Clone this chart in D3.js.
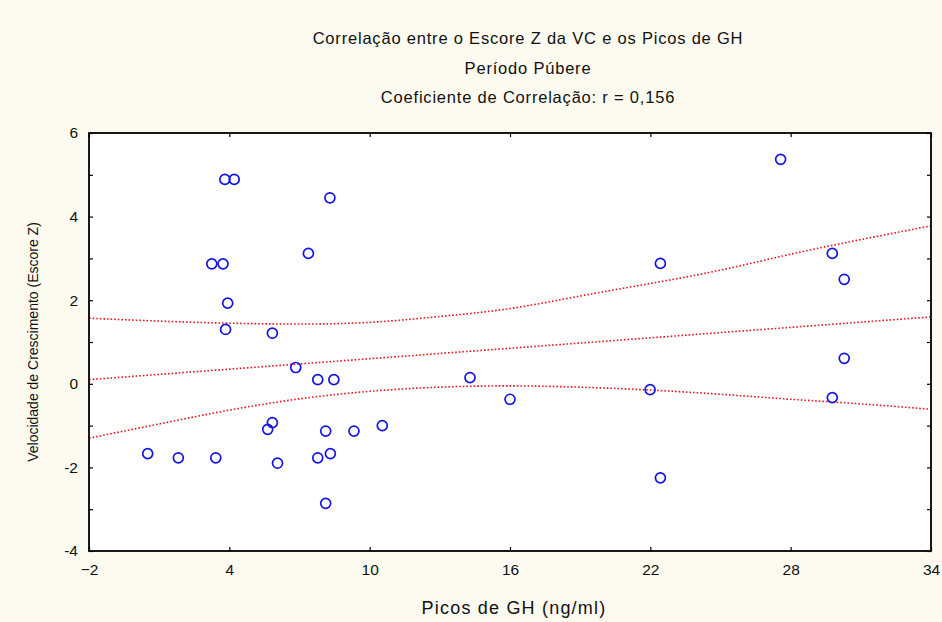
<!DOCTYPE html>
<html>
<head>
<meta charset="utf-8">
<script src="https://cdn.jsdelivr.net/npm/d3@7"></script>
<style>
  html, body { margin: 0; padding: 0; background: #fdfaf0; }
  svg { display: block; }
</style>
</head>
<body>
<script>
// Data
const picosGH = [3.81, 4.21, 8.30, 3.25, 3.73, 7.38, 3.93, 3.84, 5.84, 6.84, 7.78, 8.47,
  5.84, 5.64, 8.12, 9.33, 0.51, 1.82, 3.42, 6.06, 7.78, 8.32, 8.12, 14.29, 16.0, 10.54,
  27.57, 22.43, 29.78, 30.29, 30.29, 21.99, 29.78, 22.43];
const escoreZ = [4.89, 4.89, 4.45, 2.87, 2.87, 3.12, 1.93, 1.30, 1.21, 0.39, 0.10, 0.10,
  -0.93, -1.09, -1.13, -1.13, -1.67, -1.77, -1.77, -1.90, -1.77, -1.67, -2.86, 0.15, -0.37, -1.00,
  5.37, 2.88, 3.12, 2.50, 0.61, -0.14, -0.33, -2.25];

// fitted line + confidence band, read at these x positions
const bandX = [-2, 1, 4, 7, 10, 13, 16, 19, 22, 25, 28, 31, 34];
const fitY = [0.10, 0.225, 0.35, 0.475, 0.60, 0.725, 0.85, 0.975, 1.10, 1.225, 1.35, 1.475, 1.60];
const upperY = [1.57, 1.50, 1.45, 1.43, 1.47, 1.61, 1.80, 2.10, 2.40, 2.72, 3.10, 3.45, 3.78];
const lowerY = [-1.30, -0.96, -0.63, -0.36, -0.18, -0.08, -0.05, -0.08, -0.15, -0.25, -0.37, -0.48, -0.61];

const xTicks = [-2, 4, 10, 16, 22, 28, 34];
const yTicks = [-4, -3, -2, -1, 0, 1, 2, 3, 4, 5, 6];
const titleLines = [
  "Correlação entre o Escore Z da VC e os Picos de GH",
  "Período Púbere",
  "Coeficiente de Correlação: r = 0,156"
];

const width = 942;
const height = 622;
const margins = { left: 89, right: 11, top: 133, bottom: 71 };
const font = "'Liberation Sans', Arial, sans-serif";

const xScale = d3.scaleLinear().domain([-2, 34]).range([margins.left, width - margins.right]);
const yScale = d3.scaleLinear().domain([-4, 6]).range([height - margins.bottom, margins.top]);

const svg = d3.select("body").append("svg")
  .attr("width", width)
  .attr("height", height)
  .style("background", "#fdfaf0");

// Plot background
svg.append("rect")
  .attr("x", xScale(-2))
  .attr("y", yScale(6))
  .attr("width", xScale(34) - xScale(-2))
  .attr("height", yScale(-4) - yScale(6))
  .attr("fill", "#ffffff");

svg.append("clipPath").attr("id", "plotClip")
  .append("rect")
  .attr("x", xScale(-2))
  .attr("y", yScale(6))
  .attr("width", xScale(34) - xScale(-2))
  .attr("height", yScale(-4) - yScale(6));

// Title
svg.append("g").selectAll("text")
  .data(titleLines)
  .join("text")
  .attr("x", 528)
  .attr("y", (d, i) => 44 + i * 29.5)
  .attr("text-anchor", "middle")
  .attr("font-family", font)
  .attr("font-size", "16.5px")
  .attr("letter-spacing", "0.8px")
  .attr("fill", "#111")
  .text((d) => d);

// Regression lines (dotted red)
const line = d3.line()
  .x((d) => xScale(d[0]))
  .y((d) => yScale(d[1]))
  .curve(d3.curveNatural);

const lines = svg.append("g").attr("clip-path", "url(#plotClip)");
[fitY, upperY, lowerY].forEach((ys) => {
  lines.append("path")
    .attr("d", line(bandX.map((x, i) => [x, ys[i]])))
    .attr("fill", "none")
    .attr("stroke", "#e3161e")
    .attr("stroke-width", 1.6)
    .attr("stroke-dasharray", "1.6,2");
});

// Points
svg.append("g").selectAll("circle")
  .data(picosGH.map((x, i) => [x, escoreZ[i]]))
  .join("circle")
  .attr("cx", (d) => xScale(d[0]))
  .attr("cy", (d) => yScale(d[1]))
  .attr("r", 5)
  .attr("fill", "none")
  .attr("stroke", "#1414e6")
  .attr("stroke-width", 1.7);

// Axes (ticks point inward)
const styleAxis = (g) => {
  g.select(".domain").remove();
  g.selectAll(".tick line").attr("stroke", "#000").attr("stroke-width", 1.2);
  g.selectAll("text")
    .attr("font-family", font)
    .attr("font-size", "15.5px")
    .attr("fill", "#111");
};

svg.append("g")
  .attr("transform", `translate(0, ${yScale(-4)})`)
  .call(d3.axisBottom(xScale).tickValues(xTicks).tickSize(-4).tickPadding(13))
  .call(styleAxis);

svg.append("g")
  .attr("transform", `translate(0, ${yScale(6)})`)
  .call(d3.axisTop(xScale).tickValues(xTicks).tickSize(-4).tickFormat(""))
  .call(styleAxis);

svg.append("g")
  .attr("transform", `translate(${xScale(-2)}, 0)`)
  .call(d3.axisLeft(yScale).tickValues(yTicks).tickSize(-4).tickPadding(11)
    .tickFormat((d) => (d % 2 === 0 ? d : "")))
  .call(styleAxis);

svg.append("g")
  .attr("transform", `translate(${xScale(34)}, 0)`)
  .call(d3.axisRight(yScale).tickValues(yTicks).tickSize(-4).tickFormat(""))
  .call(styleAxis);

// Frame
svg.append("rect")
  .attr("x", xScale(-2))
  .attr("y", yScale(6))
  .attr("width", xScale(34) - xScale(-2))
  .attr("height", yScale(-4) - yScale(6))
  .attr("fill", "none")
  .attr("stroke", "#000")
  .attr("stroke-width", 1.8);

// Axis labels
svg.append("text")
  .attr("x", 514)
  .attr("y", 614)
  .attr("text-anchor", "middle")
  .attr("font-family", font)
  .attr("font-size", "18px")
  .attr("letter-spacing", "1.2px")
  .attr("fill", "#111")
  .text("Picos de GH (ng/ml)");

svg.append("text")
  .attr("transform", `translate(38, ${(yScale(6) + yScale(-4)) / 2}) rotate(-90)`)
  .attr("text-anchor", "middle")
  .attr("font-family", font)
  .attr("font-size", "14px")
  .attr("fill", "#111")
  .text("Velocidade de Crescimento (Escore Z)");
</script>
</body>
</html>
